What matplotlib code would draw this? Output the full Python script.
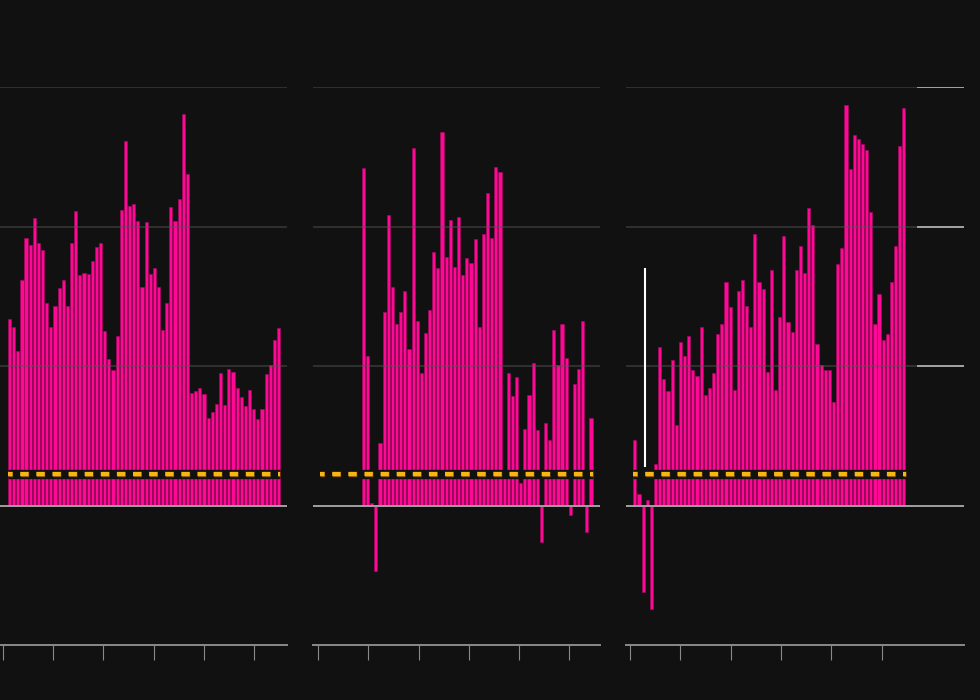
import numpy as np
import matplotlib.pyplot as plt
import matplotlib.patheffects as pe

plt.rcParams['lines.scale_dashes'] = False

# bar values per panel (one bar per period)
left_vals = [1.34, 1.28, 1.105, 1.62, 1.92, 1.87, 2.06, 1.88, 1.83, 1.455, 1.28, 1.43,
             1.56, 1.62, 1.43, 1.88, 2.11, 1.65, 1.67, 1.66, 1.75, 1.85, 1.885, 1.25,
             1.05, 0.97, 1.215, 2.12, 2.61, 2.15, 2.16, 2.04, 1.57, 2.03, 1.66, 1.70,
             1.57, 1.26, 1.455, 2.14, 2.04, 2.20, 2.81, 2.38, 0.81, 0.82, 0.84, 0.80,
             0.63, 0.67, 0.73, 0.95, 0.72, 0.98, 0.96, 0.84, 0.78, 0.71, 0.83, 0.69,
             0.62, 0.69, 0.94, 1.01, 1.19, 1.27]
mid_start = 10
mid_vals = [2.42, 1.07, 0.015, -0.47, 0.45, 1.39, 2.08, 1.565, 1.30, 1.39, 1.54, 1.12,
            2.565, 1.32, 0.95, 1.24, 1.40, 1.82, 1.70, 2.68, 1.78, 2.045, 1.71, 2.07,
            1.65, 1.775, 1.74, 1.91, 1.28, 1.95, 2.24, 1.92, 2.43, 2.39, 0.22, 0.95,
            0.785, 0.92, 0.16, 0.545, 0.79, 1.02, 0.54, -0.26, 0.59, 0.47, 1.26, 1.005,
            1.30, 1.06, -0.07, 0.87, 0.98, 1.325, -0.19, 0.63]
right_vals = [0.47, 0.08, -0.62, 0.04, -0.74, 0.30, 1.14, 0.905, 0.82, 1.04, 0.575, 1.17,
              1.07, 1.215, 0.97, 0.925, 1.28, 0.795, 0.84, 0.95, 1.23, 1.30, 1.60, 1.42,
              0.83, 1.54, 1.62, 1.43, 1.28, 1.95, 1.60, 1.55, 0.96, 1.69, 0.83, 1.35,
              1.93, 1.315, 1.245, 1.685, 1.86, 1.67, 2.13, 2.01, 1.16, 1.01, 0.97, 0.97,
              0.74, 1.73, 1.845, 2.87, 2.41, 2.66, 2.625, 2.59, 2.55, 2.105, 1.30, 1.52,
              1.19, 1.23, 1.60, 1.86, 2.58, 2.85]

target = 0.225          # dashed reference level
marker_x = 2.5          # white marker in the last panel
marker_range = (0.275, 1.705)

left_ticks = [-1.69, 10.39, 22.6, 34.9, 47.0, 59.1]
mid_ticks = [-0.97, 11.1, 23.4, 35.5, 47.6, 59.7]
right_ticks = [-1.09, 11.0, 23.3, 35.4, 47.5, 59.6]

bg = '#111111'
pink = '#ff0896'
edge = '#a00a5e'
orange = '#f9b514'

fig = plt.figure(figsize=(9.8, 7), dpi=100, facecolor=bg)

panels = [
    (left_vals, 0, left_ticks, [0.0, 0.0786, 0.2929, 0.797], -2.3, 67.06),
    (mid_vals, mid_start, mid_ticks, [0.3189, 0.0786, 0.2929, 0.797], -2.3, 67.06),
    (right_vals, 0, right_ticks, [0.6388, 0.0786, 0.3449, 0.797], -2.15, 79.53),
]

for k, (vals, start, ticks, rect, xmin, xmax) in enumerate(panels):
    ax = fig.add_axes(rect)
    ax.set_facecolor(bg)
    x = np.arange(start, start + len(vals))
    ax.bar(x, vals, width=0.76, color=pink, edgecolor=edge, linewidth=0.5, zorder=2)

    # grid lines drawn over the bars
    grid_end = 1.0 if k < 2 else 0.864
    for g in [1, 2, 3]:
        ax.axhline(g, xmin=0, xmax=grid_end, color='#555555', alpha=0.5, lw=1.3, zorder=3)
        if k == 2:
            ax.axhline(g, xmin=grid_end, xmax=1, color='#b0b0b0', lw=1.3, zorder=3)
    ax.axhline(0, color='#a0a0a0', lw=1.4, zorder=4)

    # dashed reference line with dark gap behind it
    ax.plot([-0.4, 65.4], [target, target], color=bg, lw=6.7,
            solid_capstyle='butt', zorder=5)
    ax.plot([-0.4, 65.4], [target, target], color=orange, lw=3.0,
            linestyle=(2.8, (6.0, 5.6)), dash_capstyle='butt', zorder=6,
            path_effects=[pe.Stroke(linewidth=3.8, foreground='#8a5a00'), pe.Normal()])

    if k == 2:
        ax.vlines(marker_x, marker_range[0], marker_range[1], color='white', lw=1.5, zorder=7)

    ax.set_xlim(xmin, xmax)
    ax.set_ylim(-1, 3)
    for s in ['top', 'right', 'left']:
        ax.spines[s].set_visible(False)
    ax.spines['bottom'].set_color('#8a8a8a')
    ax.spines['bottom'].set_linewidth(1.4)
    ax.set_xticks(ticks)
    ax.set_xticklabels([])
    ax.tick_params(axis='x', length=10.8, width=0.8, color='#8a8a8a', direction='out')
    ax.set_yticks([])

fig.savefig('out.png', dpi=100, facecolor=bg)
